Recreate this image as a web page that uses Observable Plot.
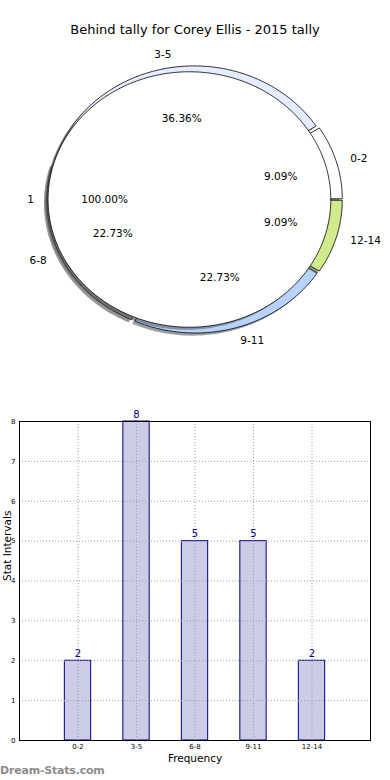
<!DOCTYPE html>
<html><head><meta charset="utf-8">
<script src="https://cdn.jsdelivr.net/npm/d3@7"></script>
<script src="https://cdn.jsdelivr.net/npm/@observablehq/plot@0.6"></script>
<style>
body{margin:0;background:#fff;font-family:"DejaVu Sans",sans-serif;}
#wrap{position:relative;width:390px;height:780px;overflow:hidden;background:#fff}
#title{position:absolute;top:22px;left:0;width:390px;text-align:center;font-size:13px;color:#000;line-height:16px}
#pie{position:absolute;top:40px;left:0}
#bar{position:absolute;top:400px;left:0}
#wm{position:absolute;left:0;top:763px;font-size:11px;font-weight:600;color:#8c8c8c;line-height:16px;letter-spacing:-0.2px}
</style></head><body>
<div id="wrap">
<div id="title"></div>
<div id="pie"></div>
<div id="bar"></div>
<div id="wm">Dream-Stats.com</div>
</div>
<script>
const title = "Behind tally for Corey Ellis - 2015 tally";
const categories = ["0-2", "3-5", "6-8", "9-11", "12-14"];
const counts = [2, 8, 5, 5, 2];
const ringColors = ["#ffffff", "#e6edff", "#9a9a9a", "#b8d3fb", "#d2ea8e"];
const innerLabels = ["1"];
const innerCounts = [1];
const innerColors = ["#ffffff"];
const yTicks = [0, 1, 2, 3, 4, 5, 6, 7, 8];
const yLabel = "Stat Intervals";
const xLabel = "Frequency";
const watermark = "Dream-Stats.com";

document.getElementById("title").textContent = title;
document.getElementById("wm").textContent = watermark;

// Build pie wedges (matplotlib-style: counterclockwise from 3 o'clock)
function buildPie(labels, values, colors, radius, explode) {
  const total = d3.sum(values);
  let start = 0;
  const shapes = [];
  const texts = [];
  values.forEach((v, i) => {
    const sweep = v / total * 360;
    const t1 = start, t2 = start + sweep;
    start = t2;
    const mid = (t1 + t2) / 2 * Math.PI / 180;
    const ox = explode * Math.cos(mid), oy = explode * Math.sin(mid);
    const pts = [];
    const full = sweep >= 359.999;
    if (!full) pts.push([ox, oy]);
    const n = Math.max(4, Math.ceil(sweep));
    for (let k = 0; k <= n; k++) {
      const a = (t1 + (t2 - t1) * k / n) * Math.PI / 180;
      pts.push([ox + radius * Math.cos(a), oy + radius * Math.sin(a)]);
    }
    if (!full) pts.push([ox, oy]);
    const c = d3.rgb(colors[i]);
    const sh = `rgba(${Math.round(c.r * 0.3)},${Math.round(c.g * 0.3)},${Math.round(c.b * 0.3)},0.5)`;
    shapes.push({key: labels[i] + "-shadow", fill: sh, stroke: "rgba(0,0,0,0)", pts: pts.map(([x, y]) => [x - 0.02, y - 0.02])});
    shapes.push({key: labels[i] + "-wedge", fill: colors[i], stroke: "#000000", pts});
    texts.push({
      label: labels[i],
      pct: (v / total * 100).toFixed(2) + "%",
      lx: ox + 1.1 * radius * Math.cos(mid),
      ly: oy + 1.1 * radius * Math.sin(mid),
      px: ox + 0.6 * radius * Math.cos(mid),
      py: oy + 0.6 * radius * Math.sin(mid)
    });
  });
  return {shapes, texts};
}

const outer = buildPie(categories, counts, ringColors, 1.0, 0.02);
const inner = buildPie(innerLabels, innerCounts, innerColors, 0.975, 0.035);
const shapes = [...outer.shapes, ...inner.shapes];
const points = shapes.flatMap(s => s.pts.map(([x, y]) => ({x, y, key: s.key, fill: s.fill, stroke: s.stroke})));
const texts = [...outer.texts, ...inner.texts];

const pie = Plot.plot({
  width: 390,
  height: 320,
  margin: 0,
  axis: null,
  x: {domain: [-1, 1], range: [49, 339]},
  y: {domain: [-1, 1], range: [290, 28]},
  color: {type: "identity"},
  style: {fontFamily: "DejaVu Sans", fontSize: "10.5px", background: "transparent"},
  marks: [
    Plot.line(points, {x: "x", y: "y", z: "key", fill: "fill", stroke: "stroke", strokeWidth: 0.8, curve: "linear", strokeLinejoin: "miter"}),
    Plot.text(texts.filter(d => d.lx < 0), {x: "lx", y: "ly", text: "label", textAnchor: "end", fill: "#000", fontSize: 10.5}),
    Plot.text(texts.filter(d => d.lx >= 0), {x: "lx", y: "ly", text: "label", textAnchor: "start", fill: "#000", fontSize: 10.5}),
    Plot.text(texts, {x: "px", y: "py", text: "pct", textAnchor: "middle", fill: "#000", fontSize: 10.5})
  ]
});
document.getElementById("pie").appendChild(pie);

const barData = categories.map((c, i) => ({i, cat: c, count: counts[i]}));
const positions = categories.map((c, i) => i);

const bar = Plot.plot({
  width: 390,
  height: 370,
  marginLeft: 19,
  marginRight: 20,
  marginTop: 21,
  marginBottom: 30,
  x: {domain: [-1, 5]},
  y: {domain: [0, 8]},
  style: {fontFamily: "DejaVu Sans", fontSize: "7px", background: "transparent"},
  marks: [
    Plot.rect(barData, {x1: d => d.i - 0.225, x2: d => d.i + 0.225, y1: 0, y2: "count", fill: "#ccccE6", stroke: "#000080", strokeWidth: 1}),
    Plot.ruleY(yTicks, {stroke: "#a0a0a0", strokeDasharray: "1,2"}),
    Plot.ruleX(positions, {stroke: "#a0a0a0", strokeDasharray: "1,2"}),
    Plot.frame({stroke: "#000"}),
    Plot.axisY({ticks: yTicks, tickSize: 0, tickPadding: 4, label: null, fontSize: 7, tickFormat: d => String(d)}),
    Plot.axisX({ticks: positions, tickFormat: i => categories[i], tickSize: 0, tickPadding: 4, label: null, fontSize: 7}),
    Plot.text(barData, {x: "i", y: "count", text: d => String(d.count), dy: -7, fill: "#000080", fontSize: 10}),
    Plot.text([xLabel], {frameAnchor: "bottom", dy: 21, fontSize: 10.5, fill: "#000"}),
    Plot.text([yLabel], {frameAnchor: "left", rotate: -90, dx: -12, fontSize: 10.5, fill: "#000"})
  ]
});
document.getElementById("bar").appendChild(bar);
</script>
</body></html>
